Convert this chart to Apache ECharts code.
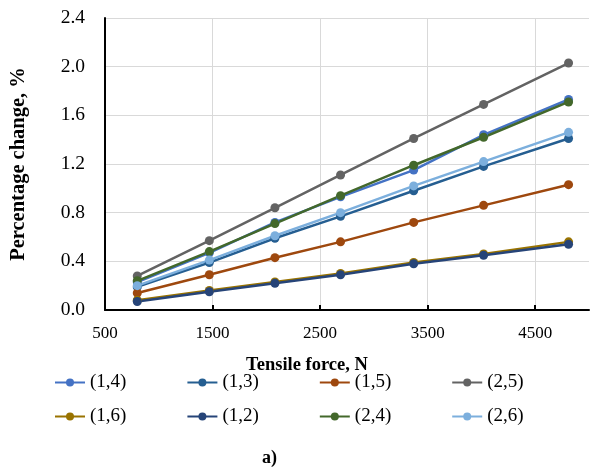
<!DOCTYPE html>
<html>
<head>
<meta charset="utf-8">
<script src="https://cdn.jsdelivr.net/npm/echarts@6/dist/echarts.min.js"></script>
<style>
  html, body { margin: 0; padding: 0; background: #fff; }
  #chart { width: 591px; height: 472px; }
</style>
</head>
<body>
<div id="chart"></div>
<script>
// tensile force values (N)
const forces = [800, 1470, 2080, 2690, 3370, 4020, 4810]

// percentage change per pair
const s14 = [0.23, 0.47, 0.72, 0.93, 1.15, 1.44, 1.73]
const s13 = [0.19, 0.39, 0.59, 0.77, 0.98, 1.18, 1.41]
const s15 = [0.14, 0.29, 0.43, 0.56, 0.72, 0.86, 1.03]
const s25 = [0.28, 0.57, 0.84, 1.11, 1.41, 1.69, 2.03]
const s16 = [0.08, 0.16, 0.23, 0.30, 0.39, 0.46, 0.56]
const s12 = [0.07, 0.15, 0.22, 0.29, 0.38, 0.45, 0.54]
const s24 = [0.24, 0.48, 0.71, 0.94, 1.19, 1.42, 1.71]
const s26 = [0.20, 0.41, 0.61, 0.80, 1.02, 1.22, 1.46]

const names = ['(1,4)', '(1,3)', '(1,5)', '(2,5)', '(1,6)', '(1,2)', '(2,4)', '(2,6)']
const values = [s14, s13, s15, s25, s16, s12, s24, s26]
const colors = ['#4472C4', '#255E91', '#9E480E', '#636363', '#997300', '#264478', '#43682B', '#7CAFDD']

const font = 'Liberation Serif'

const chart = echarts.init(document.getElementById('chart'))

// legend: two rows of four
const legendBase = {
    orient: 'horizontal',
    padding: 0,
    itemWidth: 30,
    itemHeight: 10,
    itemGap: 60,
    textStyle: { fontFamily: font, fontSize: 19, color: '#000', width: 45 },
    left: 54
}

const option = {
    animation: false,
    color: colors,
    grid: {
        left: 103,
        right: 2,
        top: 18,
        bottom: 162
    },
    title: {
        text: 'a)',
        left: 257,
        top: 444,
        textStyle: { fontFamily: font, fontSize: 18, fontWeight: 'bold', color: '#000' }
    },
    legend: [
        Object.assign({}, legendBase, { top: 373, data: names.slice(0, 4) }),
        Object.assign({}, legendBase, { top: 407, data: names.slice(4) })
    ],
    xAxis: {
        type: 'value',
        min: 500,
        max: 5000,
        interval: 1000,
        name: 'Tensile force, N',
        nameLocation: 'middle',
        nameGap: 46,
        nameTextStyle: {
            fontFamily: font, fontSize: 18.5, fontWeight: 'bold', color: '#000',
            padding: [0, 80, 0, 0]
        },
        axisLine: { lineStyle: { color: '#000', width: 2 } },
        axisTick: { show: true, inside: true, length: 5, lineStyle: { color: '#000', width: 2 } },
        axisLabel: {
            fontFamily: font, fontSize: 17, color: '#000', margin: 15,
            showMaxLabel: false,
            formatter: v => String(v)
        },
        splitLine: {
            show: true,
            showMaxLine: false,
            lineStyle: { color: '#D9D9D9', width: 1 }
        }
    },
    yAxis: {
        type: 'value',
        min: 0,
        max: 2.4,
        interval: 0.4,
        name: 'Percentage change, %',
        nameLocation: 'middle',
        nameGap: 76,
        nameTextStyle: { fontFamily: font, fontSize: 20.5, fontWeight: 'bold', color: '#000' },
        axisLine: { show: true, lineStyle: { color: '#000', width: 2 } },
        axisTick: { show: false },
        axisLabel: {
            fontFamily: font, fontSize: 19.5, color: '#000', margin: 20,
            formatter: v => v.toFixed(1)
        },
        splitLine: { lineStyle: { color: '#D9D9D9', width: 1 } }
    },
    series: names.map((n, i) => ({
        name: n,
        type: 'line',
        data: forces.map((f, j) => [f, values[i][j]]),
        symbol: 'circle',
        symbolSize: 9,
        lineStyle: { width: 2.5, color: colors[i] },
        itemStyle: { color: colors[i], borderWidth: 0 }
    }))
}

chart.setOption(option)
</script>
</body>
</html>
